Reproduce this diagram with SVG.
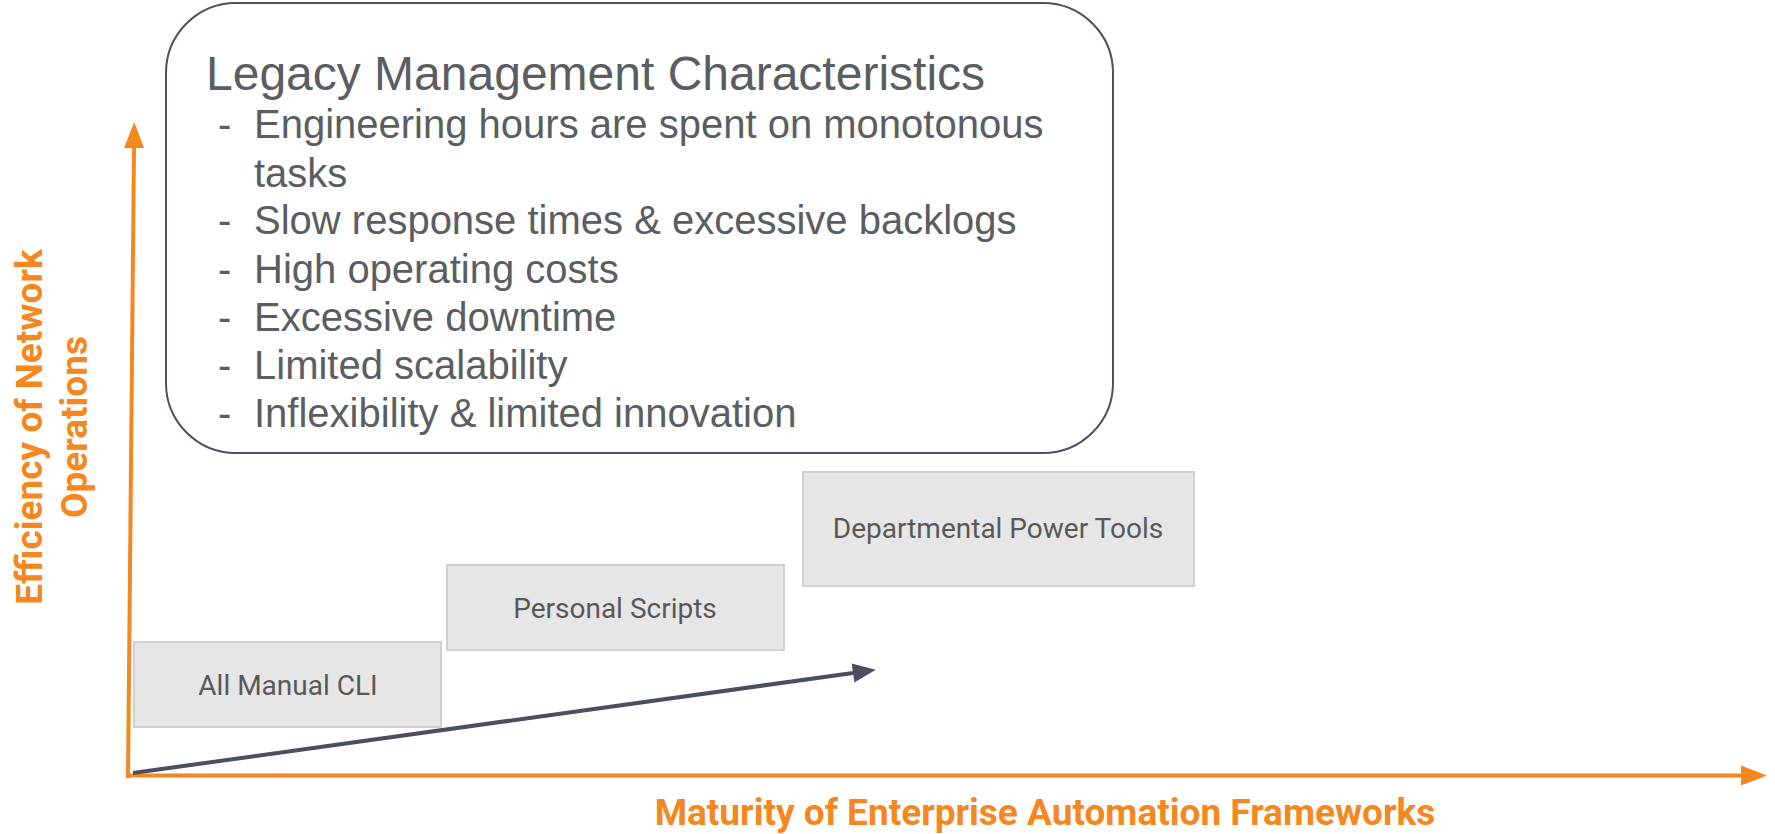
<svg xmlns="http://www.w3.org/2000/svg" width="1775" height="834" viewBox="0 0 1775 834">
<defs>
<style>
.t{font-family:Roboto,"Liberation Sans",sans-serif;fill:#595959}
.a{font-family:"Liberation Sans",Arial,sans-serif;fill:#5a5d61}
.ax{font-family:Roboto,"Liberation Sans",sans-serif;font-weight:bold;fill:#f5871f;font-size:37px;text-anchor:middle}
.box{fill:#e6e6e6;stroke:#d0d0d0;stroke-width:2}
.lbl{font-size:28px;text-anchor:middle}
.axis{stroke:#f5871f;stroke-width:4;fill:none}
</style>
<marker id="ao" markerUnits="userSpaceOnUse" markerWidth="27" markerHeight="21" refX="0" refY="10" orient="auto" overflow="visible">
<path d="M0,0 L26,10 L0,20 z" fill="#f5871f"/>
</marker>
<marker id="ad" markerUnits="userSpaceOnUse" markerWidth="24" markerHeight="20" refX="0" refY="9.5" orient="auto" overflow="visible">
<path d="M0,0 L23,9.5 L0,19 z" fill="#4b4e60"/>
</marker>
</defs>
<rect width="1775" height="834" fill="#ffffff"/>

<g id="legacy-box">
<rect x="166" y="3" width="947" height="450" rx="70" ry="70" fill="#ffffff" stroke="#4b4f63" stroke-width="2"/>
<text class="a" x="206" y="90" font-size="48">Legacy Management Characteristics</text>
<g class="a" font-size="40">
<text x="218" y="138">-</text><text x="254" y="138">Engineering hours are spent on monotonous</text>
<text x="254" y="187">tasks</text>
<text x="218" y="234">-</text><text x="254" y="234">Slow response times &amp; excessive backlogs</text>
<text x="218" y="283">-</text><text x="254" y="283">High operating costs</text>
<text x="218" y="331">-</text><text x="254" y="331">Excessive downtime</text>
<text x="218" y="379">-</text><text x="254" y="379">Limited scalability</text>
<text x="218" y="427">-</text><text x="254" y="427">Inflexibility &amp; limited innovation</text>
</g>
</g>

<g id="all-manual-cli">
<rect class="box" x="134" y="642" width="307" height="85"/>
<text class="t lbl" x="288" y="695">All Manual CLI</text>
</g>

<g id="personal-scripts">
<rect class="box" x="447" y="565" width="337" height="85"/>
<text class="t lbl" x="615" y="618">Personal Scripts</text>
</g>

<g id="departmental-power-tools">
<rect class="box" x="803" y="472" width="391" height="114"/>
<text class="t lbl" x="998" y="538">Departmental Power Tools</text>
</g>

<g id="connectors">
<line class="axis" x1="128" y1="778" x2="134" y2="148" marker-end="url(#ao)"/>
<line class="axis" x1="128" y1="775.5" x2="1741" y2="775.5" marker-end="url(#ao)"/>
<line x1="133" y1="773" x2="853" y2="673" stroke="#4b4e60" stroke-width="4" marker-end="url(#ad)"/>
</g>

<g id="axis-labels">
<text class="ax" x="1045" y="825">Maturity of Enterprise Automation Frameworks</text>
<text class="ax" transform="translate(42,427) rotate(-90)">Efficiency of Network</text>
<text class="ax" transform="translate(87,427) rotate(-90)">Operations</text>
</g>
</svg>
